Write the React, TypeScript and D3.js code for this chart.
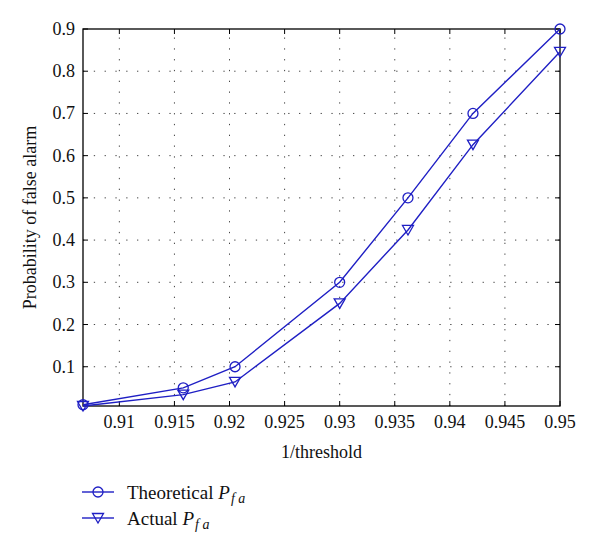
import React from "react";
import * as d3 from "d3";

const xValues = [0.9067, 0.9158, 0.9205, 0.93, 0.9362, 0.9421, 0.95];
const theoretical = [0.01, 0.05, 0.1, 0.3, 0.5, 0.7, 0.9];
const actual = [0.007, 0.034, 0.064, 0.25, 0.424, 0.626, 0.846];
const xTicks = [0.91, 0.915, 0.92, 0.925, 0.93, 0.935, 0.94, 0.945, 0.95];
const yTicks = [0.1, 0.2, 0.3, 0.4, 0.5, 0.6, 0.7, 0.8, 0.9];

const W = 600, H = 554;
const L = 83, R = 560, T = 29, B = 406;
const BLUE = "#1f1fc4";
const FONT = "'Liberation Serif', 'Times New Roman', serif";

export default function App() {
  const x = d3.scaleLinear().domain([0.9067, 0.95]).range([L, R]);
  const y = d3.scaleLinear().domain([0.007, 0.9]).range([B, T]);
  const line = d3.line<[number, number]>().x(d => x(d[0])).y(d => y(d[1]));
  const tData = xValues.map((v, i) => [v, theoretical[i]] as [number, number]);
  const aData = xValues.map((v, i) => [v, actual[i]] as [number, number]);
  const tri = (cx: number, cy: number) => `M${cx - 5.5},${cy - 4.5}L${cx + 5.5},${cy - 4.5}L${cx},${cy + 5}Z`;
  const fmt = (v: number) => String(+v.toFixed(3));

  return (
    <svg width={W} height={H} style={{ position: "absolute", left: 0, top: 0, background: "#fff" }} fontFamily={FONT}>
      {/* grid */}
      <g stroke="#444" strokeWidth={1} strokeDasharray="1.3 9.5">
        {xTicks.filter(t => t < 0.95).map(t => (
          <line key={"gx" + t} x1={x(t)} x2={x(t)} y1={B} y2={T} />
        ))}
        {yTicks.filter(t => t < 0.9).map(t => (
          <line key={"gy" + t} x1={L} x2={R} y1={y(t)} y2={y(t)} />
        ))}
      </g>
      {/* ticks */}
      <g stroke="#000" strokeWidth={1}>
        {xTicks.map(t => (
          <g key={"tx" + t}>
            <line x1={x(t)} x2={x(t)} y1={B} y2={B - 5} />
            <line x1={x(t)} x2={x(t)} y1={T} y2={T + 5} />
          </g>
        ))}
        {yTicks.map(t => (
          <g key={"ty" + t}>
            <line x1={L} x2={L + 5} y1={y(t)} y2={y(t)} />
            <line x1={R} x2={R - 5} y1={y(t)} y2={y(t)} />
          </g>
        ))}
      </g>
      <rect x={L} y={T} width={R - L} height={B - T} fill="none" stroke="#000" strokeWidth={1.3} />
      {/* tick labels */}
      <g fontSize={18} fill="#111">
        {xTicks.map(t => (
          <text key={"lx" + t} x={x(t)} y={428} textAnchor="middle">{fmt(t)}</text>
        ))}
        {yTicks.map(t => (
          <text key={"ly" + t} x={75} y={y(t) + 6} textAnchor="end">{fmt(t)}</text>
        ))}
      </g>
      <text x={(L + R) / 2} y={458} textAnchor="middle" fontSize={18} fill="#111">1/threshold</text>
      <text transform={`translate(36,${(T + B) / 2}) rotate(-90)`} textAnchor="middle" fontSize={18} fill="#111">Probability of false alarm</text>
      {/* series */}
      <path d={line(tData) || ""} fill="none" stroke={BLUE} strokeWidth={1.4} />
      <path d={line(aData) || ""} fill="none" stroke={BLUE} strokeWidth={1.4} />
      {tData.map((d, i) => (
        <circle key={"c" + i} cx={x(d[0])} cy={y(d[1])} r={5} fill="none" stroke={BLUE} strokeWidth={1.3} />
      ))}
      {aData.map((d, i) => (
        <path key={"t" + i} d={tri(x(d[0]), y(d[1]))} fill="none" stroke={BLUE} strokeWidth={1.3} />
      ))}
      {/* legend */}
      <g>
        <line x1={82} x2={114} y1={492} y2={492} stroke={BLUE} strokeWidth={1.4} />
        <circle cx={98} cy={492} r={5} fill="none" stroke={BLUE} strokeWidth={1.3} />
        <text x={127} y={499} fontSize={19} fill="#111">Theoretical <tspan fontStyle="italic">P</tspan><tspan fontStyle="italic" fontSize={14} dy={4} dx={1}>f a</tspan></text>
        <line x1={82} x2={114} y1={518} y2={518} stroke={BLUE} strokeWidth={1.4} />
        <path d={tri(98, 518)} fill="none" stroke={BLUE} strokeWidth={1.3} />
        <text x={127} y={525} fontSize={19} fill="#111">Actual <tspan fontStyle="italic">P</tspan><tspan fontStyle="italic" fontSize={14} dy={4} dx={1}>f a</tspan></text>
      </g>
    </svg>
  );
}
